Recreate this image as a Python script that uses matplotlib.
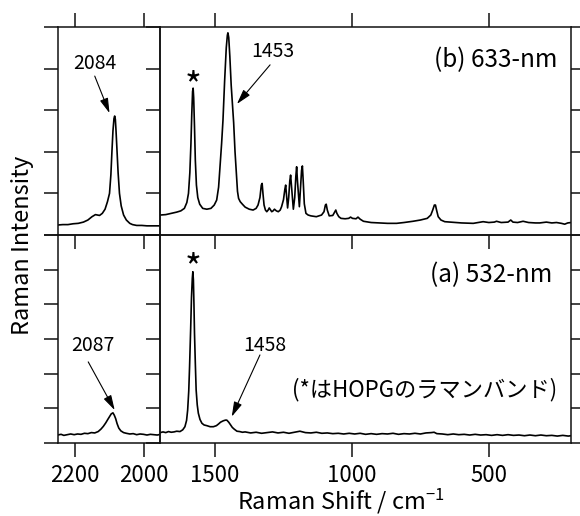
import matplotlib
matplotlib.use("Agg")
import matplotlib.pyplot as plt

plt.rcParams['font.family'] = ['Noto Sans CJK JP', 'DejaVu Sans']
plt.rcParams['mathtext.default'] = 'regular'
plt.rcParams['axes.unicode_minus'] = True

# ---------------- data ----------------
# (b) 633-nm, high-shift window
b633_hi_x = [2250, 2235, 2220, 2205, 2190, 2175, 2162, 2150, 2140, 2134, 2128, 2120, 2112,
             2105, 2099, 2095, 2092, 2089, 2086, 2084, 2082, 2080, 2077, 2074, 2070, 2065,
             2058, 2050, 2040, 2032, 2020, 2005, 1990, 1975, 1950]
b633_hi_y = [0.24, 0.25, 0.25, 0.27, 0.28, 0.31, 0.36, 0.44, 0.49, 0.48, 0.47, 0.52, 0.62,
             0.80, 1.00, 1.45, 2.00, 2.50, 2.80, 2.86, 2.78, 2.50, 2.00, 1.50, 1.00, 0.70,
             0.48, 0.36, 0.28, 0.25, 0.23, 0.23, 0.22, 0.22, 0.22]

# (b) 633-nm, main window
b633_x = [1700, 1680, 1660, 1640, 1625, 1612, 1603, 1597, 1592, 1588, 1585, 1582, 1580,
          1578, 1575, 1572, 1568, 1563, 1556, 1545, 1530, 1515, 1503, 1494, 1487, 1482,
          1476, 1471, 1465, 1459, 1455, 1453, 1450, 1446, 1441, 1436, 1432, 1427, 1422,
          1418, 1414, 1408, 1400, 1390, 1375, 1361, 1350, 1343, 1336, 1331, 1328, 1325,
          1321, 1316, 1311, 1306, 1302, 1297, 1293, 1288, 1283, 1276, 1269, 1262, 1257,
          1250, 1245, 1242, 1239, 1235, 1231, 1227, 1224, 1220, 1214, 1209, 1205, 1202,
          1199, 1192, 1188, 1184, 1181, 1178, 1174, 1168, 1160, 1150, 1130, 1111, 1102,
          1097, 1094, 1090, 1083, 1070, 1063, 1059, 1055, 1048, 1040, 1025, 1012, 1005,
          998, 985, 978, 970, 958, 930, 900, 870, 837, 810, 777, 750, 725, 712, 705, 699,
          695, 691, 685, 675, 661, 642, 600, 557, 540, 521, 500, 480, 472, 455, 430, 420,
          412, 395, 375, 355, 330, 314, 290, 270, 253, 235, 223, 212, 200]
b633_y = [0.48, 0.49, 0.52, 0.55, 0.58, 0.64, 0.78, 1.00, 1.50, 2.20, 2.90, 3.45, 3.53,
          3.30, 2.60, 1.80, 1.20, 0.90, 0.74, 0.64, 0.62, 0.64, 0.72, 0.84, 1.15, 1.64,
          2.20, 2.76, 3.70, 4.50, 4.80, 4.86, 4.75, 4.30, 3.60, 3.10, 2.70, 2.00, 1.45,
          1.05, 0.88, 0.80, 0.74, 0.67, 0.62, 0.60, 0.64, 0.72, 0.90, 1.20, 1.24, 1.00,
          0.72, 0.60, 0.56, 0.60, 0.65, 0.60, 0.56, 0.58, 0.62, 0.58, 0.56, 0.60, 0.68,
          0.85, 1.10, 1.20, 0.95, 0.65, 0.90, 1.30, 1.44, 1.10, 0.62, 0.90, 1.40, 1.64,
          1.30, 0.68, 1.10, 1.55, 1.66, 1.30, 0.75, 0.52, 0.48, 0.46, 0.44, 0.48, 0.56,
          0.72, 0.74, 0.60, 0.46, 0.47, 0.55, 0.60, 0.52, 0.44, 0.40, 0.39, 0.40, 0.43,
          0.40, 0.39, 0.43, 0.38, 0.33, 0.30, 0.29, 0.28, 0.28, 0.30, 0.33, 0.36, 0.40,
          0.48, 0.60, 0.72, 0.72, 0.60, 0.44, 0.36, 0.32, 0.31, 0.29, 0.28, 0.30, 0.32,
          0.30, 0.31, 0.33, 0.30, 0.31, 0.36, 0.31, 0.30, 0.33, 0.30, 0.29, 0.29, 0.31,
          0.29, 0.30, 0.28, 0.26, 0.29, 0.30]

# (a) 532-nm, high-shift window
a532_hi_x = [2250, 2240, 2232, 2222, 2212, 2202, 2192, 2182, 2172, 2162, 2152, 2142, 2132,
             2124, 2117, 2110, 2104, 2099, 2094, 2089, 2085, 2081, 2077, 2072, 2066, 2058,
             2050, 2040, 2030, 2020, 2010, 2000, 1990, 1980, 1970, 1960, 1950]
a532_hi_y = [0.23, 0.25, 0.22, 0.24, 0.26, 0.24, 0.26, 0.25, 0.28, 0.27, 0.30, 0.29, 0.33,
             0.40, 0.48, 0.58, 0.68, 0.76, 0.84, 0.87, 0.80, 0.70, 0.56, 0.43, 0.35, 0.30,
             0.28, 0.26, 0.27, 0.24, 0.26, 0.25, 0.23, 0.25, 0.24, 0.23, 0.25]

# (a) 532-nm, main window
a532_x = [1700, 1690, 1680, 1670, 1660, 1650, 1640, 1628, 1618, 1610, 1604, 1600, 1596,
          1593, 1589, 1586, 1583, 1581, 1579, 1577, 1575, 1572, 1569, 1565, 1561, 1555,
          1548, 1540, 1530, 1518, 1506, 1495, 1487, 1480, 1470, 1462, 1457, 1450, 1443,
          1437, 1430, 1420, 1410, 1400, 1390, 1370, 1350, 1330, 1310, 1290, 1270, 1250,
          1230, 1210, 1190, 1170, 1150, 1130, 1110, 1090, 1070, 1050, 1030, 1010, 990,
          970, 950, 930, 910, 890, 870, 850, 830, 810, 790, 770, 750, 730, 710, 700, 690,
          670, 650, 630, 610, 590, 570, 550, 530, 510, 490, 470, 450, 430, 410, 390, 370,
          350, 330, 310, 290, 270, 250, 230, 210, 200]
a532_y = [0.30, 0.32, 0.30, 0.33, 0.31, 0.32, 0.34, 0.33, 0.38, 0.47, 0.65, 0.95, 1.50,
          2.20, 3.30, 4.20, 4.75, 4.94, 4.70, 4.00, 3.16, 2.30, 1.53, 1.10, 0.86, 0.68,
          0.57, 0.52, 0.50, 0.47, 0.47, 0.50, 0.55, 0.60, 0.64, 0.66, 0.66, 0.60, 0.52,
          0.45, 0.40, 0.34, 0.33, 0.31, 0.32, 0.29, 0.31, 0.28, 0.30, 0.32, 0.29, 0.31,
          0.28, 0.31, 0.34, 0.30, 0.29, 0.31, 0.28, 0.29, 0.27, 0.28, 0.26, 0.28, 0.26,
          0.28, 0.25, 0.27, 0.25, 0.27, 0.26, 0.28, 0.25, 0.27, 0.26, 0.28, 0.26, 0.29,
          0.30, 0.31, 0.27, 0.26, 0.24, 0.26, 0.24, 0.25, 0.23, 0.25, 0.23, 0.24, 0.22,
          0.24, 0.22, 0.24, 0.22, 0.23, 0.21, 0.23, 0.21, 0.23, 0.21, 0.22, 0.20, 0.22,
          0.20, 0.21]

xticks_hi = [2200, 2000]
xticks_main = [1500, 1000, 500]
xlim_hi = (2249, 1952)
xlim_main = (1701, 200)
yticks_top = [0, 1, 2, 3, 4, 5]
yticks_bot = [0, 1, 2, 3, 4, 5, 6]

# ---------------- figure ----------------
W, H = 580, 516
fig = plt.figure(figsize=(W / 100, H / 100), dpi=100)
xL, xM, xR = 58 / W, 160 / W, 571 / W
yT1, yMid, yB0 = 1 - 27 / H, 1 - 235 / H, 1 - 443 / H

axTR = fig.add_axes([xM, yMid, xR - xM, yT1 - yMid])
axBR = fig.add_axes([xM, yB0, xR - xM, yMid - yB0])
axTL = fig.add_axes([xL, yMid, xM - xL, yT1 - yMid])
axBL = fig.add_axes([xL, yB0, xM - xL, yMid - yB0])

lw_line = 1.2
TL = 9.8
for ax in (axTL, axTR, axBL, axBR):
    ax.patch.set_visible(False)
    for s in ax.spines.values():
        s.set_linewidth(1.1)
        s.set_color('#111111')
    ax.tick_params(direction='out', length=TL, width=1.1, color='#111111',
                   labelsize=16, pad=5)

axTL.plot(b633_hi_x, b633_hi_y, color='black', lw=lw_line)
axTR.plot(b633_x, b633_y, color='black', lw=lw_line)
axBL.plot(a532_hi_x, a532_hi_y, color='black', lw=lw_line)
axBR.plot(a532_x, a532_y, color='black', lw=lw_line)

for ax in (axTL, axBL):
    ax.set_xlim(*xlim_hi)
    ax.set_xticks(xticks_hi)
for ax in (axTR, axBR):
    ax.set_xlim(*xlim_main)
    ax.set_xticks(xticks_main)
for ax in (axTL, axTR):
    ax.set_ylim(0, 5)
    ax.set_yticks(yticks_top)
for ax in (axBL, axBR):
    ax.set_ylim(0, 6)
    ax.set_yticks(yticks_bot)

# tick sides
axTL.tick_params(axis='x', top=True, bottom=True, labelbottom=False)
axTL.tick_params(axis='y', left=True, right=False, labelleft=False)
axTR.tick_params(axis='x', top=True, bottom=True, labelbottom=False)
axTR.tick_params(axis='y', left=True, right=True, labelleft=False)
axBL.tick_params(axis='x', top=False, bottom=True, labelbottom=True)
axBL.tick_params(axis='y', left=True, right=False, labelleft=False)
axBR.tick_params(axis='x', top=False, bottom=True, labelbottom=True)
axBR.tick_params(axis='y', left=True, right=True, labelleft=False)

arrow_kw = dict(arrowstyle='-|>,head_length=0.6,head_width=0.17', color='black',
                lw=0.8, shrinkA=0, shrinkB=0, mutation_scale=15)
fs_ann = 14

# top-left
axTL.text(2141, 4.13, '2084', ha='center', va='center', fontsize=fs_ann)
axTL.annotate('', xy=(2099, 2.93), xytext=(2142, 3.82), arrowprops=arrow_kw)
# top-right
axTR.text(1580, 3.55, '*', ha='center', va='center', fontsize=26)
axTR.text(1288, 4.4, '1453', ha='center', va='center', fontsize=fs_ann)
axTR.annotate('', xy=(1420, 3.15), xytext=(1299, 4.09), arrowprops=arrow_kw)
axTR.text(248, 4.2, '(b) 633-nm', ha='right', va='center', fontsize=17.5)
# bottom-left
axBL.text(2149, 2.82, '2087', ha='center', va='center', fontsize=fs_ann)
axBL.annotate('', xy=(2084, 0.95), xytext=(2161, 2.34), arrowprops=arrow_kw)
# bottom-right
axBR.text(1579, 5.02, '*', ha='center', va='center', fontsize=26)
axBR.text(1318, 2.82, '1458', ha='center', va='center', fontsize=fs_ann)
axBR.annotate('', xy=(1439, 0.76), xytext=(1336, 2.54), arrowprops=arrow_kw)
axBR.text(270, 4.84, '(a) 532-nm', ha='right', va='center', fontsize=17.5)
axBR.text(252, 1.53, '(*はHOPGのラマンバンド)', ha='right', va='center', fontsize=16)

fig.text(341 / W, 1 - 509 / H, 'Raman Shift / cm$^{-1}$', ha='center', va='baseline',
         fontsize=17)
fig.text(23 / W, 1 - 245 / H, 'Raman Intensity', ha='center', va='center',
         rotation=90, fontsize=17)

fig.savefig('out.png', dpi=100, facecolor='white')
